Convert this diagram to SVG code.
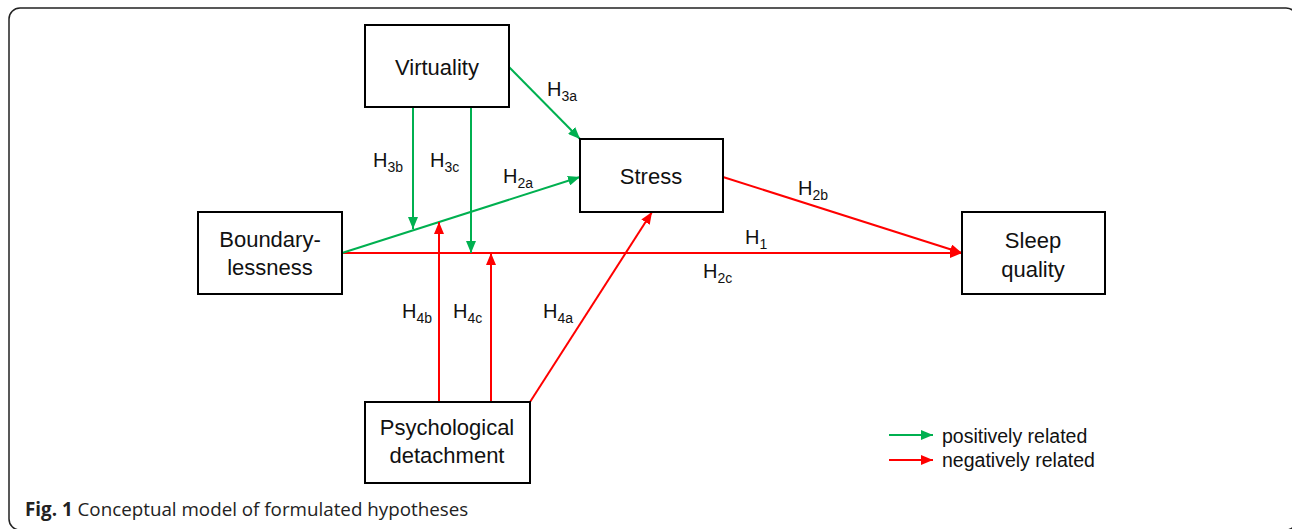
<svg xmlns="http://www.w3.org/2000/svg" width="1292" height="529" viewBox="0 0 1292 529">
<style>
.box{fill:#fff;stroke:#000;stroke-width:2}
.lbl{font-family:"Liberation Sans",Arial,sans-serif;font-size:22px;fill:#111;text-anchor:middle}
.h{font-family:"Liberation Sans",Arial,sans-serif;font-size:20px;fill:#111}
.sub{font-size:14px}
.g{stroke:#00b050;stroke-width:2;fill:none;marker-end:url(#ag)}
.r{stroke:#f00;stroke-width:2;fill:none;marker-end:url(#ar)}
.leg{font-family:"Liberation Sans",Arial,sans-serif;font-size:19.5px;fill:#111}
</style>
<defs>
<marker id="ag" viewBox="0 0 12 10" refX="12" refY="5" markerWidth="12" markerHeight="10" markerUnits="userSpaceOnUse" orient="auto"><path d="M0,0 L12,5 L0,10 z" fill="#00b050"/></marker>
<marker id="ar" viewBox="0 0 12 10" refX="12" refY="5" markerWidth="12" markerHeight="10" markerUnits="userSpaceOnUse" orient="auto"><path d="M0,0 L12,5 L0,10 z" fill="#f00"/></marker>
</defs>
<rect x="0" y="0" width="1292" height="529" fill="#fff"/>
<rect x="9" y="8" width="1288" height="522" rx="11" fill="none" stroke="#222" stroke-width="1.5"/>

<g id="connectors">
<line class="r" x1="342" y1="253" x2="962" y2="253"/>
<line class="g" x1="342" y1="253" x2="580" y2="177"/>
<line class="g" x1="509" y1="67" x2="580" y2="139"/>
<line class="g" x1="413" y1="107" x2="413" y2="229"/>
<line class="g" x1="471" y1="107" x2="471" y2="253"/>
<line class="r" x1="439" y1="402" x2="439" y2="222"/>
<line class="r" x1="491" y1="402" x2="491" y2="253"/>
<line class="r" x1="530" y1="402" x2="652" y2="212"/>
<line class="r" x1="723" y1="177" x2="962" y2="253"/>
</g>

<g id="labels">
<text class="h" x="547" y="96">H<tspan class="sub" dy="5">3a</tspan></text>
<text class="h" x="373" y="167">H<tspan class="sub" dy="5">3b</tspan></text>
<text class="h" x="430" y="167">H<tspan class="sub" dy="5">3c</tspan></text>
<text class="h" x="503" y="183">H<tspan class="sub" dy="5">2a</tspan></text>
<text class="h" x="798" y="195">H<tspan class="sub" dy="5">2b</tspan></text>
<text class="h" x="745" y="244">H<tspan class="sub" dy="5">1</tspan></text>
<text class="h" x="703" y="278">H<tspan class="sub" dy="5">2c</tspan></text>
<text class="h" x="402" y="318">H<tspan class="sub" dy="5">4b</tspan></text>
<text class="h" x="453" y="318">H<tspan class="sub" dy="5">4c</tspan></text>
<text class="h" x="543" y="318">H<tspan class="sub" dy="5">4a</tspan></text>
</g>

<g id="virtuality">
<rect class="box" x="365" y="25" width="144" height="82"/>
<text class="lbl" x="437" y="75">Virtuality</text>
</g>
<g id="stress">
<rect class="box" x="580" y="139" width="143" height="73"/>
<text class="lbl" x="651" y="184">Stress</text>
</g>
<g id="boundarylessness">
<rect class="box" x="198" y="212" width="144" height="82"/>
<text class="lbl" x="270" y="247">Boundary-</text>
<text class="lbl" x="270" y="275">lessness</text>
</g>
<g id="sleep">
<rect class="box" x="962" y="212" width="143" height="82"/>
<text class="lbl" x="1033" y="248">Sleep</text>
<text class="lbl" x="1033" y="277">quality</text>
</g>
<g id="detachment">
<rect class="box" x="365" y="402" width="165" height="81"/>
<text class="lbl" x="447" y="435">Psychological</text>
<text class="lbl" x="447" y="463">detachment</text>
</g>

<g id="legend">
<line class="g" x1="889" y1="435" x2="933" y2="435"/>
<line class="r" x1="889" y1="460" x2="933" y2="460"/>
<text class="leg" x="942" y="443">positively related</text>
<text class="leg" x="942" y="467">negatively related</text>
</g>

<text x="25" y="516" font-family="'Open Sans',sans-serif" font-size="18.8" fill="#222"><tspan font-weight="bold">Fig. 1</tspan> Conceptual model of formulated hypotheses</text>
</svg>
